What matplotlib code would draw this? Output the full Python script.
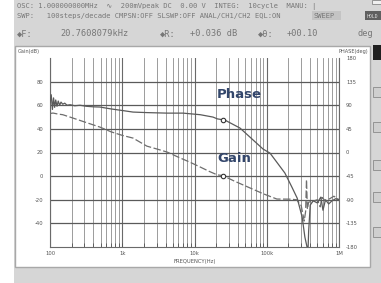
import matplotlib
matplotlib.use("Agg")
import matplotlib.pyplot as plt
from matplotlib.patches import Rectangle
from matplotlib.ticker import FixedLocator, NullFormatter
import numpy as np

# ---------------- data ----------------
gain_freq = [100, 110, 130, 150, 189, 250, 350, 491, 700, 1000, 1410, 2190, 3000, 4170,
             6000, 8500, 12000, 16000, 20760, 24600, 35000, 58600, 90000, 138000, 210000,
             260000, 300000, 330000, 345000, 355000, 365000, 380000, 450000, 500000,
             550000, 580000, 650000, 750000, 850000, 1000000]
gain_db = [53, 53.4, 52.5, 52, 50, 47.5, 44.5, 41.5, 37.5, 34.5, 32.2, 25.4, 23, 20.4,
           16, 12, 7.7, 4, 1, 0.5, -4, -10, -15, -19.4, -19.5,
           -20, -25, -38, -30, -3, -28, -22, -21, -20,
           -26, -18, -21, -19, -17, -20]

phase_freq = [100, 104, 108, 112, 116, 120, 125, 130, 136, 142, 150, 160, 172, 190, 220,
              260, 320, 400, 490, 700, 1000, 1410, 2200, 4170, 6950, 12000, 18000, 20760,
              26300, 42700, 89000, 111000, 178000, 223000, 264000, 309000, 337000, 361000,
              370000, 380000, 400000, 440000, 500000, 560000, 600000, 650000, 720000,
              800000, 900000, 1000000]
phase_deg = [95, 110, 82, 104, 86, 100, 88, 98, 90, 96, 92, 94, 90, 91, 89,
             90, 88, 87, 86.6, 83, 80, 77, 76, 75, 75, 72, 67.5, 64,
             61.8, 46.5, 6.5, -1.2, -39, -66, -87, -123, -161, -180,
             -200, -150, -100, -92, -96, -85, -110, -90, -98,
             -92, -88, -90]

marker_freq = [24600]
marker_gain = [0.5]
marker_phase = [61.8]

xtick_vals = [1e2, 1e3, 1e4, 1e5, 1e6]
xtick_labels = ["100", "1k", "10k", "100k", "1M"]
gain_ticks = [-40, -20, 0, 20, 40, 60, 80]
phase_ticks = [-180, -135, -90, -45, 0, 45, 90, 135, 180]

# ---------------- figure ----------------
W, H = 381, 283
fig = plt.figure(figsize=(W / 100, H / 100), dpi=100)
fig.patch.set_facecolor("white")

def fx(px):
    return px / W

def fy(py):
    return 1 - py / H

# gray instrument background
fig.patches.append(Rectangle((fx(14), 0), 1 - fx(14), 1, transform=fig.transFigure,
                             facecolor="#d6d6d6", edgecolor="none", zorder=0))
# white plot panel
fig.patches.append(Rectangle((fx(15), fy(267)), fx(370) - fx(15), fy(46) - fy(267),
                             transform=fig.transFigure, facecolor="white",
                             edgecolor="#a8a8a8", linewidth=1.0, zorder=1))
# SWEEP box and HOLD box
fig.patches.append(Rectangle((fx(312), fy(20)), fx(341) - fx(312), fy(11) - fy(20),
                             transform=fig.transFigure, facecolor="#c4c4c4",
                             edgecolor="none", zorder=1))
fig.patches.append(Rectangle((fx(365), fy(20)), fx(381) - fx(365), fy(11) - fy(20),
                             transform=fig.transFigure, facecolor="#606060",
                             edgecolor="none", zorder=1))
fig.patches.append(Rectangle((fx(372), fy(4)), fx(381) - fx(372), fy(0) - fy(4),
                             transform=fig.transFigure, facecolor="#f0f0f0",
                             edgecolor="#888888", linewidth=0.6, zorder=1))
# right side buttons
fig.patches.append(Rectangle((fx(373), fy(60)), fx(381) - fx(373), fy(45) - fy(60),
                             transform=fig.transFigure, facecolor="#202020",
                             edgecolor="none", zorder=1))
for yb in [87, 122, 160, 192, 227]:
    fig.patches.append(Rectangle((fx(373), fy(yb + 10)), fx(381) - fx(373), fy(yb) - fy(yb + 10),
                                 transform=fig.transFigure, facecolor="#cfcfcf",
                                 edgecolor="#8a8a8a", linewidth=0.6, zorder=1))

mono = ["DejaVu Sans Mono", "DejaVu Sans", "Noto Sans", "Noto Sans CJK SC", "Liberation Sans"]
hc = "#777777"
hs = 5.1
fig.text(fx(17), fy(7), "OSC: 1.000000000MHz  \u223f  200mVpeak DC  0.00 V  INTEG:  10cycle  MANU: |",
         fontsize=hs, family=mono, color=hc, va="center", ha="left")
fig.text(fx(17), fy(16), "SWP:   100steps/decade CMPSN:OFF SLSWP:OFF ANAL/CH1/CH2 EQL:ON",
         fontsize=hs, family=mono, color=hc, va="center", ha="left")
fig.text(fx(314), fy(16), "SWEEP", fontsize=hs, family=mono, color=hc, va="center", ha="left")
fig.text(fx(367), fy(16), "HOLD", fontsize=3.5, family=mono, color="#dddddd", va="center", ha="left")
l3 = 6.2
fig.text(fx(17), fy(34), "\u25c6F:", fontsize=l3, family=mono, color=hc, va="center", ha="left")
fig.text(fx(60), fy(34), "20.7608079kHz", fontsize=l3, family=mono, color=hc, va="center", ha="left")
fig.text(fx(160), fy(34), "\u25c6R:", fontsize=l3, family=mono, color=hc, va="center", ha="left")
fig.text(fx(190), fy(34), "+0.036 dB", fontsize=l3, family=mono, color=hc, va="center", ha="left")
fig.text(fx(258), fy(34), "\u25c6\u03b8:", fontsize=l3, family=mono, color=hc, va="center", ha="left")
fig.text(fx(287), fy(34), "+00.10", fontsize=l3, family=mono, color=hc, va="center", ha="left")
fig.text(fx(357), fy(34), "deg", fontsize=l3, family=mono, color=hc, va="center", ha="left")

# ---------------- axes ----------------
ax = fig.add_axes([fx(50), fy(247), fx(339) - fx(50), fy(58) - fy(247)], zorder=3)
ax.set_facecolor("none")
ax.set_xscale("log")
ax.set_xlim(1e2, 1e6)
ax.set_ylim(-60, 100)

# grid
minor = [m * 10 ** e for e in range(2, 6) for m in range(2, 10)]
for f in minor:
    ax.axvline(f, color="#8c8c8c", linewidth=0.6, zorder=1)
for f in xtick_vals:
    ax.axvline(f, color="#6a6a6a", linewidth=0.8, zorder=1)
for g in gain_ticks:
    ax.axhline(g, color="#5a5a5a", linewidth=0.9, zorder=1)

ax.xaxis.set_major_locator(FixedLocator(xtick_vals))
ax.set_xticklabels(xtick_labels)
ax.xaxis.set_minor_locator(FixedLocator(minor))
ax.xaxis.set_minor_formatter(NullFormatter())
ax.tick_params(axis="x", which="both", direction="in", length=3, width=0.6,
               color="#555555", labelsize=3.8, labelcolor="#555555", pad=3)
ax.set_yticks(gain_ticks)
ax.set_yticklabels([str(v) for v in gain_ticks])
ax.tick_params(axis="y", length=0, labelsize=3.8, labelcolor="#555555", pad=5)
for s in ["left", "bottom", "right"]:
    ax.spines[s].set_color("#6a6a6a")
    ax.spines[s].set_linewidth(0.8)
ax.spines["top"].set_visible(False)

ax.set_xlabel("FREQUENCY(Hz)", fontsize=3.8, color="#555555", labelpad=2)

ax2 = ax.twinx()
ax2.set_ylim(-180, 180)
ax2.set_yticks(phase_ticks)
ax2.set_yticklabels([str(v) for v in phase_ticks])
ax2.tick_params(axis="y", length=0, labelsize=3.8, labelcolor="#555555", pad=5)
for s in ax2.spines.values():
    s.set_visible(False)

# traces
ax.plot(gain_freq, gain_db, color="#6e6e6e", linewidth=0.9, linestyle=(0, (6, 2)), zorder=4)
ax2.plot(phase_freq, phase_deg, color="#5a5a5a", linewidth=0.9, zorder=4)
ax.plot(marker_freq, marker_gain, marker="o", markersize=3.2, markerfacecolor="white",
        markeredgecolor="#333333", markeredgewidth=0.8, linestyle="none", zorder=5)
ax2.plot(marker_freq, marker_phase, marker="o", markersize=3.2, markerfacecolor="white",
         markeredgecolor="#333333", markeredgewidth=0.8, linestyle="none", zorder=5)

# axis captions
fig.text(fx(18), fy(52), "Gain(dB)", fontsize=3.6, color="#555555", va="center", ha="left")
fig.text(fx(368), fy(52), "PHASE(deg)", fontsize=3.6, color="#555555", va="center", ha="right")

# annotations
fig.text(fx(217), fy(95), "Phase", fontsize=9.5, fontweight="bold", color="#33466b",
         va="center", ha="left", zorder=10)
fig.text(fx(217), fy(159), "Gain", fontsize=9.5, fontweight="bold", color="#33466b",
         va="center", ha="left", zorder=10)

fig.savefig("out.png", dpi=100)
